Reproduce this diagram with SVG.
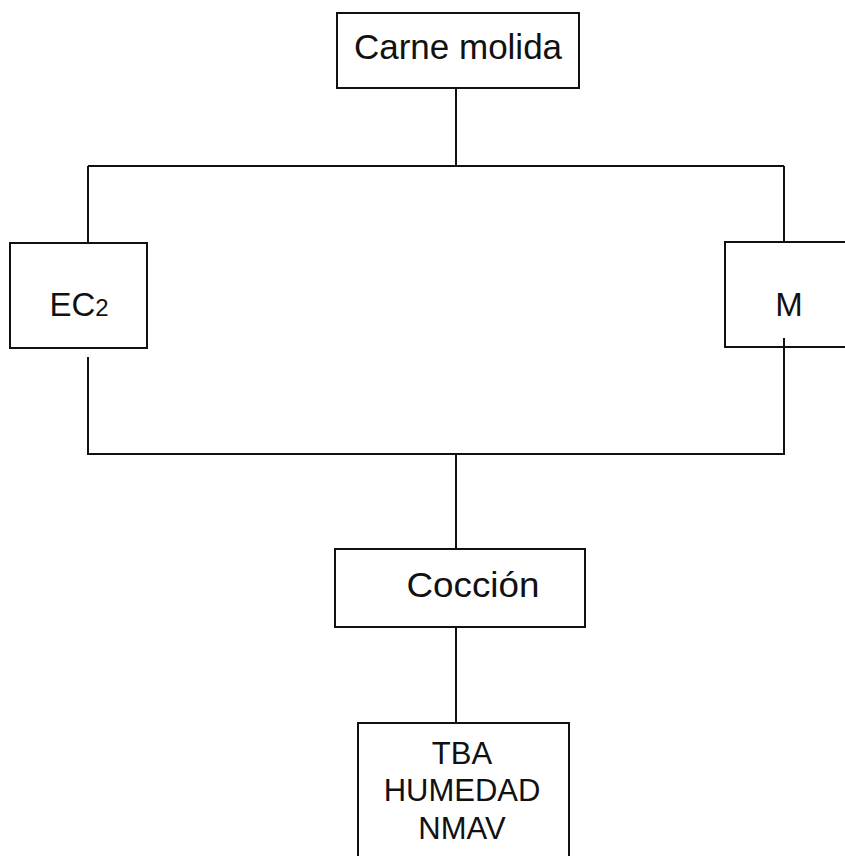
<svg xmlns="http://www.w3.org/2000/svg" width="845" height="856" viewBox="0 0 845 856">
<style>
.box{fill:#fff;stroke:#111;stroke-width:2}
.ln{fill:none;stroke:#111;stroke-width:2}
text{font-family:"Liberation Sans",Arial,sans-serif;fill:#111;text-anchor:middle}
</style>
<rect width="845" height="856" fill="#fff"/>
<g id="connectors">
<path class="ln" d="M456 88V166M88 166H784M88 166V243M784 166V242M88 357V454H784V338M456 454V549M456 627V723"/>
</g>
<g id="carne">
<rect class="box" x="337" y="13" width="242" height="75"/>
<text x="458" y="59" font-size="35">Carne molida</text>
</g>
<g id="ec2">
<rect class="box" x="10" y="243" width="137" height="105"/>
<text x="79" y="316" font-size="33">EC<tspan font-size="24">2</tspan></text>
</g>
<g id="m">
<rect class="box" x="725" y="242" width="130" height="105"/>
<text x="789" y="316" font-size="33">M</text>
</g>
<g id="m-line">
<path class="ln" d="M784 338V347"/>
</g>
<g id="coccion">
<rect class="box" x="335" y="549" width="250" height="78"/>
<text x="473" y="597" font-size="35" textLength="133" lengthAdjust="spacingAndGlyphs">Cocción</text>
</g>
<g id="resultados">
<rect class="box" x="358" y="723" width="211" height="150"/>
<text x="462" y="764" font-size="31">TBA</text>
<text x="462" y="801" font-size="31">HUMEDAD</text>
<text x="462" y="839" font-size="31">NMAV</text>
</g>
</svg>
